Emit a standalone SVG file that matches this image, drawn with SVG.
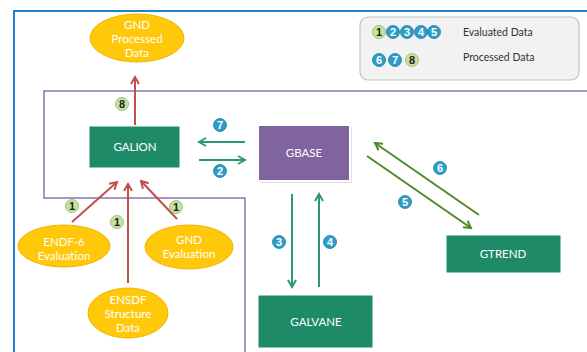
<svg xmlns="http://www.w3.org/2000/svg" width="587" height="352" viewBox="0 0 587 352">
<defs>
<style>
.lbl{font-family:Lato,"Liberation Sans",sans-serif;font-size:11.5px;fill:#ffffff;text-anchor:middle}
.leg{font-family:Lato,"Liberation Sans",sans-serif;font-size:10.5px;fill:#333333}
.box{fill:#1e8a68;stroke:#ffffff;stroke-width:1}
.ell{fill:#ffc80a;stroke:#f0b400;stroke-width:1}
.red{stroke:#c0504d;stroke-width:2;fill:none;marker-end:url(#ar)}
.grn{stroke:#2a9a6e;stroke-width:2;fill:none;marker-end:url(#ag)}
.olv{stroke:#4f8a2a;stroke-width:2;fill:none;marker-end:url(#ao)}
.bb{fill:#2c9cc8;stroke:#1d7fa6;stroke-width:0.8}
.gb{fill:#c6e2a2;stroke:#8cb860;stroke-width:0.8}
.bt{font-family:"Liberation Sans",sans-serif;font-size:11px;fill:#ffffff;text-anchor:middle;font-weight:bold}
.gt{font-family:"Liberation Sans",sans-serif;font-size:11px;fill:#222222;text-anchor:middle;font-weight:bold}
</style>
<marker id="ar" viewBox="0 0 10 10" refX="8" refY="5" markerWidth="5" markerHeight="5" orient="auto"><path d="M1,1 L8,5 L1,9" fill="none" stroke="#c0504d" stroke-width="2"/></marker>
<marker id="ag" viewBox="0 0 10 10" refX="8" refY="5" markerWidth="5" markerHeight="5" orient="auto"><path d="M1,1 L8,5 L1,9" fill="none" stroke="#2a9a6e" stroke-width="2"/></marker>
<marker id="ao" viewBox="0 0 10 10" refX="8" refY="5" markerWidth="5" markerHeight="5" orient="auto"><path d="M1,1 L8,5 L1,9" fill="none" stroke="#4f8a2a" stroke-width="2"/></marker>
<radialGradient id="yg" cx="50%" cy="40%" r="60%"><stop offset="0" stop-color="#ffd21a"/><stop offset="1" stop-color="#f6b800"/></radialGradient>
</defs>
<rect width="587" height="352" fill="#ffffff"/>
<g id="frames">
<path d="M14,360 L14,11 L600,11" fill="none" stroke="#1e80d2" stroke-width="2"/>
<path d="M600,91 L44,91 L44,198 L245,198 L245,360" fill="none" stroke="#8c74ac" stroke-width="1.5"/>
</g>
<g id="legend">
<rect x="360" y="17" width="219" height="63" rx="8" fill="#f2f2f2" stroke="#c0c0c0" stroke-width="1.2"/>
<circle class="gb" cx="379" cy="32" r="6.5"/><text class="gt" x="379" y="36">1</text>
<circle class="bb" cx="393" cy="32" r="6.5"/><text class="bt" x="393" y="36">2</text>
<circle class="bb" cx="407" cy="32" r="6.5"/><text class="bt" x="407" y="36">3</text>
<circle class="bb" cx="421" cy="32" r="6.5"/><text class="bt" x="421" y="36">4</text>
<circle class="bb" cx="434" cy="32" r="6.5"/><text class="bt" x="434" y="36">5</text>
<circle class="bb" cx="379" cy="60" r="6.5"/><text class="bt" x="379" y="64">6</text>
<circle class="bb" cx="395" cy="60" r="6.5"/><text class="bt" x="395" y="64">7</text>
<circle class="gb" cx="412" cy="60" r="6.5"/><text class="gt" x="412" y="64">8</text>
<text class="leg" x="463" y="36">Evaluated Data</text>
<text class="leg" x="463" y="61">Processed Data</text>
</g>
<g id="connectors">
<line class="red" x1="135" y1="125" x2="135" y2="77"/>
<line class="grn" x1="245" y1="142" x2="199" y2="142"/>
<line class="grn" x1="199" y1="160" x2="245" y2="160"/>
<line class="olv" x1="479" y1="215" x2="375" y2="143"/>
<line class="olv" x1="367" y1="156" x2="471" y2="228"/>
<line class="grn" x1="292" y1="194" x2="292" y2="287"/>
<line class="grn" x1="319" y1="287" x2="319" y2="194"/>
<line class="red" x1="72" y1="222" x2="117" y2="182"/>
<line class="red" x1="128" y1="283" x2="128" y2="184"/>
<line class="red" x1="177" y1="219" x2="141" y2="181"/>
</g>
<g id="badges">
<circle class="gb" cx="122" cy="104" r="6.5"/><text class="gt" x="122" y="108">8</text>
<circle class="bb" cx="220" cy="125" r="6.5"/><text class="bt" x="220" y="129">7</text>
<circle class="bb" cx="220" cy="171" r="6.5"/><text class="bt" x="220" y="175">2</text>
<circle class="bb" cx="440" cy="168" r="6.5"/><text class="bt" x="440" y="172">6</text>
<circle class="bb" cx="405" cy="202" r="6.5"/><text class="bt" x="405" y="206">5</text>
<circle class="bb" cx="279" cy="242" r="6.5"/><text class="bt" x="279" y="246">3</text>
<circle class="bb" cx="330" cy="242" r="6.5"/><text class="bt" x="330" y="246">4</text>
<circle class="gb" cx="72" cy="206" r="6.5"/><text class="gt" x="72" y="210">1</text>
<circle class="gb" cx="117" cy="222" r="6.5"/><text class="gt" x="117" y="226">1</text>
<circle class="gb" cx="176" cy="207" r="6.5"/><text class="gt" x="176" y="211">1</text>
</g>
<g id="gnd-processed">
<ellipse class="ell" cx="137" cy="38" rx="47" ry="24" fill="url(#yg)"/>
<text class="lbl" x="137" y="29">GND</text>
<text class="lbl" x="137" y="43">Processed</text>
<text class="lbl" x="137" y="57">Data</text>
</g>
<g id="galion">
<rect class="box" x="89" y="126" width="91" height="42"/>
<text class="lbl" x="135" y="151">GALION</text>
</g>
<g id="gbase">
<rect x="260" y="127" width="92" height="56" fill="#e0e0e0"/>
<rect x="258" y="125" width="92" height="56" fill="#8064a2" stroke="#ffffff" stroke-width="2"/>
<text class="lbl" x="304" y="157">GBASE</text>
</g>
<g id="gtrend">
<rect class="box" x="446" y="235" width="115" height="38"/>
<text class="lbl" x="503" y="258">GTREND</text>
</g>
<g id="galvane">
<rect class="box" x="258" y="295" width="115" height="53"/>
<text class="lbl" x="316" y="326">GALVANE</text>
</g>
<g id="endf6">
<ellipse class="ell" cx="64" cy="246" rx="46" ry="21" fill="url(#yg)"/>
<text class="lbl" x="64" y="246">ENDF-6</text>
<text class="lbl" x="64" y="260">Evaluation</text>
</g>
<g id="gnd-eval">
<ellipse class="ell" cx="189" cy="247" rx="44" ry="22" fill="url(#yg)"/>
<text class="lbl" x="189" y="244">GND</text>
<text class="lbl" x="189" y="258">Evaluation</text>
</g>
<g id="ensdf">
<ellipse class="ell" cx="128" cy="313" rx="40" ry="25" fill="url(#yg)"/>
<text class="lbl" x="128" y="304">ENSDF</text>
<text class="lbl" x="128" y="318">Structure</text>
<text class="lbl" x="128" y="332">Data</text>
</g>
</svg>
